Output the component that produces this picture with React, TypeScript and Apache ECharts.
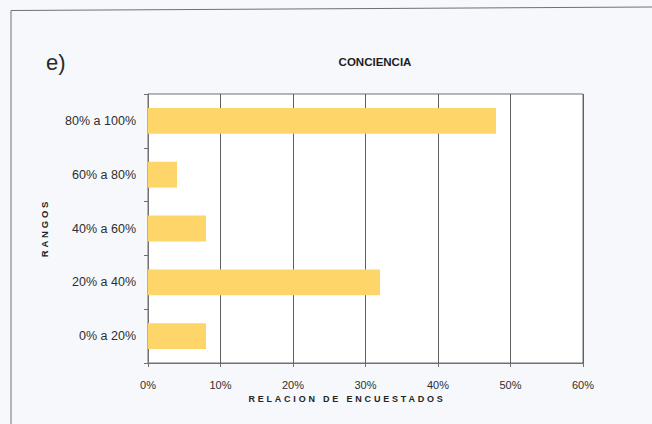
import React, { useEffect, useRef } from "react";
import * as echarts from "echarts";

const categories = ["0% a 20%", "20% a 40%", "40% a 60%", "60% a 80%", "80% a 100%"];
const values = [8, 32, 8, 4, 48];
const xTicks = { min: 0, max: 60, interval: 10 };
const titleText = "CONCIENCIA";
const panelLabel = "e)";
const xName = "RELACION DE ENCUESTADOS";
const yName = "RANGOS";

const SPACED = "'Liberation Sans Spaced', 'Liberation Sans', Arial, sans-serif";
const FONT = "'Liberation Sans', Arial, sans-serif";

export default function App() {
  const ref = useRef<HTMLDivElement>(null);
  useEffect(() => {
    if (!ref.current) return;
    const chart = echarts.init(ref.current, null, { renderer: "svg" });
    chart.setOption({
      animation: false,
      backgroundColor: "#f6f8fb",
      textStyle: { fontFamily: FONT },
      grid: {
        left: 148,
        top: 94,
        width: 435,
        height: 269,
        show: true,
        backgroundColor: "#ffffff",
        borderColor: "#707070",
        borderWidth: 1,
      },
      xAxis: {
        type: "value",
        min: xTicks.min,
        max: xTicks.max,
        interval: xTicks.interval,
        axisLine: { show: true, lineStyle: { color: "#707070", width: 1 } },
        axisTick: { show: true, length: 4, lineStyle: { color: "#707070" } },
        axisLabel: {
          formatter: "{value}%",
          color: "#2e2e2e",
          fontSize: 11,
          margin: 16,
          fontFamily: FONT,
        },
        splitLine: { show: true, lineStyle: { color: "#606060", width: 1 } },
      },
      yAxis: {
        type: "category",
        data: categories,
        axisLine: { show: true, lineStyle: { color: "#707070", width: 1 } },
        axisTick: { show: true, length: 4, lineStyle: { color: "#707070" } },
        axisLabel: { color: "#2e2e2e", fontSize: 12.5, margin: 12, fontFamily: FONT },
        splitLine: { show: false },
      },
      series: [
        {
          type: "bar",
          data: values,
          barCategoryGap: "52%",
          itemStyle: { color: "#fdd569" },
        },
      ],
      graphic: [
        {
          type: "polyline",
          shape: { points: [[11, 424], [11, 10.5], [652, 7]] },
          style: { stroke: "#707070", lineWidth: 1, fill: "none" },
          silent: true,
        },
        {
          type: "text",
          x: 46,
          y: 62,
          style: {
            text: panelLabel,
            fontSize: 22,
            fontFamily: FONT,
            fill: "#2a2a2a",
            textAlign: "left",
            textVerticalAlign: "middle",
          },
        },
        {
          type: "text",
          x: 375,
          y: 61.7,
          style: {
            text: titleText,
            fontSize: 11.5,
            fontWeight: "bold",
            fontFamily: FONT,
            fill: "#1e1e1e",
            textAlign: "center",
            textVerticalAlign: "middle",
          },
        },
        {
          type: "text",
          x: 347,
          y: 398.6,
          style: {
            text: xName,
            fontSize: 9,
            fontWeight: "bold",
            fontFamily: SPACED,
            fill: "#252525",
            textAlign: "center",
            textVerticalAlign: "middle",
          },
        },
        {
          type: "text",
          x: 44,
          y: 228,
          rotation: Math.PI / 2,
          style: {
            text: yName,
            fontSize: 9.5,
            fontWeight: "bold",
            fontFamily: SPACED,
            fill: "#252525",
            textAlign: "center",
            textVerticalAlign: "middle",
          },
        },
      ],
    });
    return () => chart.dispose();
  }, []);
  return (
    <>
      <style>{`text[style*="Spaced"]{letter-spacing:2.8px;}`}</style>
      <div
        ref={ref}
        style={{ position: "fixed", left: 0, top: 0, width: 652, height: 424 }}
      />
    </>
  );
}
